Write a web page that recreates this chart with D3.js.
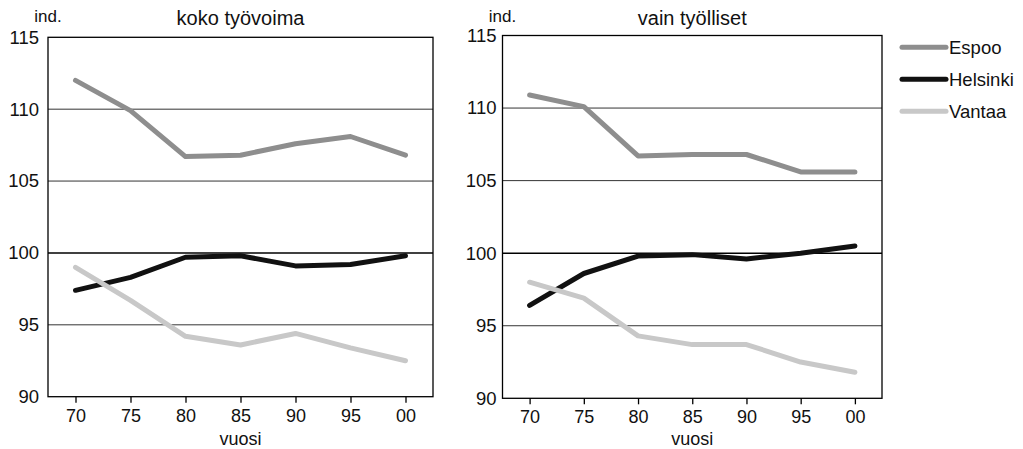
<!DOCTYPE html>
<html><head><meta charset="utf-8">
<script src="https://cdn.jsdelivr.net/npm/d3@7"></script>
<style>
html,body{margin:0;padding:0;background:#fff;}
text{font-family:"Liberation Sans",Arial,Helvetica,sans-serif;fill:#111;}
</style></head>
<body>
<svg id="chart" width="1023" height="449"></svg>
<script>
const years = ["70","75","80","85","90","95","00"];
const yTicks = [90,95,100,105,110,115];
const seriesNames = ["Espoo","Helsinki","Vantaa"];
const seriesColors = ["#8e8e8e","#111111","#c8c8c8"];
const panelTitles = ["koko työvoima","vain työlliset"];
const yLabel = "ind.";
const xLabel = "vuosi";

// koko työvoima
const espooAll    = [112.0,109.9,106.7,106.8,107.6,108.1,106.8];
const helsinkiAll = [97.4, 98.3, 99.7, 99.8, 99.1, 99.2, 99.8];
const vantaaAll   = [99.0, 96.7, 94.2, 93.6, 94.4, 93.4, 92.5];
// vain työlliset
const espooEmp    = [110.9,110.1,106.7,106.8,106.8,105.6,105.6];
const helsinkiEmp = [96.4, 98.6, 99.8, 99.9, 99.6, 100.0,100.5];
const vantaaEmp   = [98.0, 96.9, 94.3, 93.7, 93.7, 92.5, 91.8];

const panelData = [
  [espooAll, helsinkiAll, vantaaAll],
  [espooEmp, helsinkiEmp, vantaaEmp]
];

const svg = d3.select("#chart");
const panels = [
  {x0:48, x1:433, y0:37.3, y1:396.7, labPad:9, xPad:7},
  {x0:502.5, x1:882, y0:35.5, y1:398.3, labPad:6, xPad:5.5}
];

panels.forEach((p, pi) => {
  const x = d3.scalePoint().domain(years).range([p.x0, p.x1]).padding(0.5);
  const y = d3.scaleLinear().domain([90,115]).range([p.y1, p.y0]);
  const g = svg.append("g");

  // gridlines
  g.selectAll("line.grid").data(yTicks.filter(v => v > 90 && v < 115)).join("line")
    .attr("x1", p.x0).attr("x2", p.x1)
    .attr("y1", d => y(d)).attr("y2", d => y(d))
    .attr("stroke", d => d === 100 ? "#000" : "#333")
    .attr("stroke-width", d => d === 100 ? 1.6 : 1);

  // frame
  g.append("rect").attr("x", p.x0).attr("y", p.y0)
    .attr("width", p.x1 - p.x0).attr("height", p.y1 - p.y0)
    .attr("fill", "none").attr("stroke", "#000").attr("stroke-width", 1.3);

  // y axis labels
  const ya = g.append("g").attr("transform", `translate(${p.x0},0)`)
    .call(d3.axisLeft(y).tickValues(yTicks).tickSize(0).tickPadding(p.labPad));
  ya.select(".domain").remove();
  ya.selectAll("text").style("font-size", "18.5px").attr("fill", "#111")
    .style("font-family", '"Liberation Sans",Arial,sans-serif');

  // x axis
  const xa = g.append("g").attr("transform", `translate(0,${p.y1})`)
    .call(d3.axisBottom(x).tickSize(6).tickSizeOuter(0).tickPadding(p.xPad));
  xa.select(".domain").remove();
  xa.selectAll("line").attr("stroke", "#000").attr("stroke-width", 1.3);
  xa.selectAll("text").style("font-size", "18px").attr("fill", "#111")
    .style("font-family", '"Liberation Sans",Arial,sans-serif');

  // series lines
  const line = d3.line().x((d, i) => x(years[i])).y(d => y(d));
  panelData[pi].forEach((vals, si) => {
    g.append("path").datum(vals).attr("d", line)
      .attr("fill", "none").attr("stroke", seriesColors[si])
      .attr("stroke-width", 5).attr("stroke-linejoin", "round").attr("stroke-linecap", "round");
  });

  // titles
  const cx = (p.x0 + p.x1) / 2;
  g.append("text").attr("x", cx).attr("y", 25).attr("text-anchor", "middle")
    .style("font-size", "20px").text(panelTitles[pi]);
  g.append("text").attr("x", p.x0).attr("y", 22).attr("text-anchor", "middle")
    .style("font-size", "17px").text(yLabel);
  g.append("text").attr("x", cx).attr("y", 444.5).attr("text-anchor", "middle")
    .style("font-size", "18px").text(xLabel);
});

// legend
const lg = svg.append("g");
seriesNames.forEach((n, i) => {
  const yy = 47.3 + i * 32;
  lg.append("line").attr("x1", 902).attr("x2", 946).attr("y1", yy).attr("y2", yy)
    .attr("stroke", seriesColors[i]).attr("stroke-width", 5).attr("stroke-linecap", "round");
  lg.append("text").attr("x", 949).attr("y", yy).attr("dy", "0.35em")
    .style("font-size", "18.5px").text(n);
});
</script>
</body></html>
